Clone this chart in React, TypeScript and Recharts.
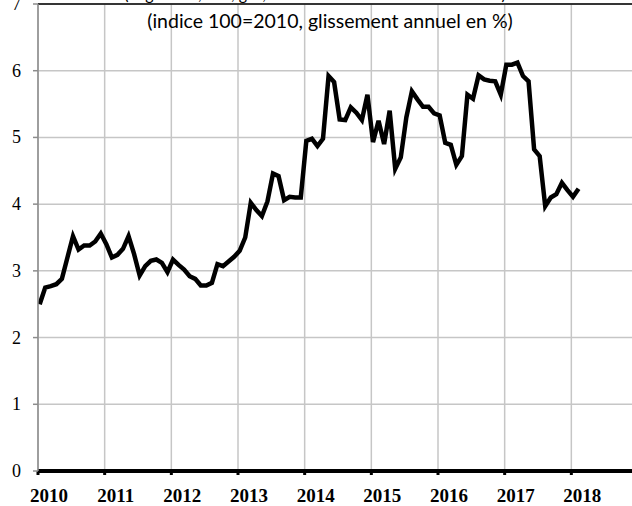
import { LineChart, Line, XAxis, YAxis, CartesianGrid, ReferenceLine } from 'recharts';

// années affichées sur l'axe horizontal
const YEARS = [2010, 2011, 2012, 2013, 2014, 2015, 2016, 2017, 2018];
const Y_TICKS = [0, 1, 2, 3, 4, 5, 6, 7];

// glissement annuel mensuel, janvier 2010 -> février 2018
const VALUES_2010 = [2.5, 2.75, 2.77, 2.8, 2.88, 3.2, 3.52, 3.32, 3.38, 3.38, 3.44, 3.56];
const VALUES_2011 = [3.4, 3.2, 3.24, 3.33, 3.52, 3.25, 2.93, 3.07, 3.15, 3.17, 3.12, 2.98];
const VALUES_2012 = [3.17, 3.09, 3.02, 2.92, 2.88, 2.78, 2.78, 2.82, 3.1, 3.07, 3.14, 3.21];
const VALUES_2013 = [3.3, 3.5, 4.02, 3.91, 3.82, 4.04, 4.46, 4.42, 4.06, 4.11, 4.1, 4.1];
const VALUES_2014 = [4.95, 4.98, 4.87, 4.98, 5.92, 5.83, 5.27, 5.26, 5.45, 5.37, 5.26, 5.64];
const VALUES_2015 = [4.93, 5.25, 4.9, 5.4, 4.53, 4.7, 5.3, 5.69, 5.57, 5.46, 5.46, 5.36];
const VALUES_2016 = [5.33, 4.92, 4.89, 4.59, 4.72, 5.64, 5.58, 5.93, 5.87, 5.85, 5.84, 5.64];
const VALUES_2017 = [6.09, 6.09, 6.12, 5.92, 5.84, 4.82, 4.72, 3.97, 4.1, 4.15, 4.32, 4.21];
const VALUES_2018 = [4.11, 4.23];

const SERIES = [
  VALUES_2010, VALUES_2011, VALUES_2012, VALUES_2013, VALUES_2014,
  VALUES_2015, VALUES_2016, VALUES_2017, VALUES_2018,
];

// une ligne par mois, positionnée dans l'année
const data = SERIES.flatMap((months, y) =>
  months.map((v, m) => ({ t: YEARS[0] + y + (m + 0.3) / 12, v }))
);

const SERIF = '"Liberation Serif", "Times New Roman", serif';
const SANS = 'Lato, "Open Sans", sans-serif';

function YearTick({ x, y, payload }: any) {
  return (
    <text x={x + 11} y={y + 25} textAnchor="middle" fontFamily={SERIF} fontWeight="bold" fontSize={19} fill="#000">
      {payload.value}
    </text>
  );
}

function ValueTick({ x, y, payload }: any) {
  return (
    <text x={x - 10} y={y + 6} textAnchor="end" fontFamily={SERIF} fontSize={18} fill="#000">
      {payload.value}
    </text>
  );
}

export default function App() {
  return (
    <div style={{ position: 'fixed', top: 0, left: 0, width: 632, height: 506, overflow: 'hidden', background: '#fff' }}>
      <LineChart width={640} height={506} data={data} margin={{ top: 4, right: 2, left: 0, bottom: 0 }}>
        <CartesianGrid stroke="#c6c6c6" strokeWidth={1.5} />
        <XAxis
          dataKey="t"
          type="number"
          domain={[2010, 2019]}
          ticks={YEARS}
          allowDataOverflow
          height={35}
          axisLine={{ stroke: '#000', strokeWidth: 4 }}
          tickLine={{ stroke: '#000', strokeWidth: 3 }}
          tickSize={4}
          tick={<YearTick />}
          interval={0}
        />
        <YAxis
          type="number"
          domain={[0, 7]}
          ticks={Y_TICKS}
          width={38}
          axisLine={{ stroke: '#8c8c8c', strokeWidth: 1.5 }}
          tickLine={{ stroke: '#8c8c8c', strokeWidth: 1.5 }}
          tickSize={5}
          tick={<ValueTick />}
          interval={0}
        />
        <ReferenceLine y={7} stroke="#000" strokeWidth={1.5} />
        <Line
          type="linear"
          dataKey="v"
          stroke="#000"
          strokeWidth={4.5}
          dot={false}
          isAnimationActive={false}
        />
      </LineChart>
      <svg width={632} height={506} style={{ position: 'absolute', top: 0, left: 0, pointerEvents: 'none' }}>
        <text x={315} y={0} textAnchor="middle" fontFamily={SANS} fontSize={16} fill="#000">
          (Logement, eau, gaz, électricité et autres combustibles)
        </text>
        <text x={330} y={28} textAnchor="middle" fontFamily={SANS} fontSize={19.5} fill="#000">
          (indice 100=2010, glissement annuel en %)
        </text>
      </svg>
    </div>
  );
}
